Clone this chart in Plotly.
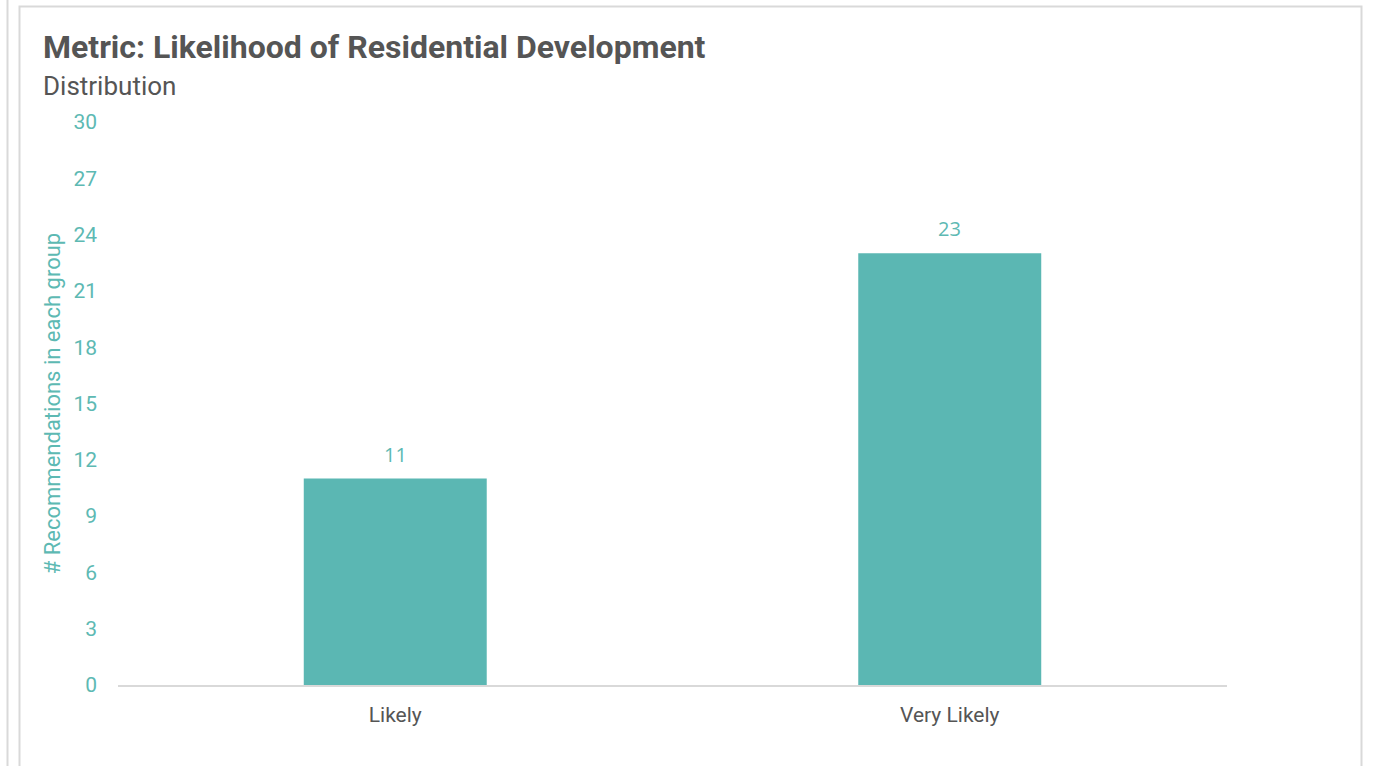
import plotly.graph_objects as go

# Data
categories = ["Likely", "Very Likely"]
counts = [11, 23]
y_ticks = [0, 3, 6, 9, 12, 15, 18, 21, 24, 27, 30]

W, H = 1388, 766
PL, PR, PT, PB = 118, 1227, 122, 685  # plot area in pixels

TEAL = "#5BB7B3"
TEAL_TEXT = "#5DB9B3"
GRAY_TEXT = "#555555"
BORDER = "#D9D9D9"


def px_x(p):
    return (p - PL) / (PR - PL)


def px_y(p):
    return (PB - p) / (PB - PT)


fig = go.Figure()
fig.add_trace(go.Bar(
    x=categories,
    y=counts,
    marker=dict(color=TEAL, line=dict(width=0)),
    width=0.33,
    hoverinfo="x+y",
))

# value labels above the bars
for c, v in zip(categories, counts):
    fig.add_annotation(
        x=c, y=v, xref="x", yref="y",
        text=str(v), showarrow=False,
        yanchor="bottom", yshift=9,
        font=dict(family="Open Sans", size=20, color=TEAL_TEXT),
    )

# subtitle
fig.add_annotation(
    xref="paper", yref="paper",
    x=px_x(41), y=px_y(86), xanchor="left", yanchor="middle",
    text="Distribution", showarrow=False,
    font=dict(family="Roboto", size=26, color=GRAY_TEXT),
)

# card borders
fig.add_shape(type="rect", xref="paper", yref="paper",
              x0=px_x(19.5), x1=px_x(1361.5), y0=px_y(800), y1=px_y(6.5),
              line=dict(color=BORDER, width=2), fillcolor="rgba(0,0,0,0)",
              layer="below")
fig.add_shape(type="line", xref="paper", yref="paper",
              x0=px_x(7.5), x1=px_x(7.5), y0=px_y(800), y1=px_y(-5),
              line=dict(color=BORDER, width=2))

fig.update_layout(
    width=W, height=H,
    margin=dict(l=PL, r=W - PR, t=PT, b=H - PB, pad=0),
    paper_bgcolor="white",
    plot_bgcolor="white",
    showlegend=False,
    bargap=0.67,
    title=dict(
        text="<b>Metric: Likelihood of Residential Development</b>",
        xref="container", yref="container",
        x=43 / W, y=1 - 47 / H, xanchor="left", yanchor="middle",
        font=dict(family="Roboto", size=32, color=GRAY_TEXT),
    ),
    xaxis=dict(
        showgrid=False,
        showline=True, linecolor=BORDER, linewidth=2,
        ticks="", zeroline=False,
        ticklabelstandoff=10,
        tickfont=dict(family="Roboto", size=21, color=GRAY_TEXT),
    ),
    yaxis=dict(
        range=[0, 30],
        tickvals=y_ticks,
        showgrid=False, zeroline=False, showline=False,
        ticks="",
        ticklabelstandoff=20,
        tickfont=dict(family="Roboto", size=21, color=TEAL_TEXT),
        title=dict(text="# Recommendations in each group",
                   font=dict(family="Roboto", size=22, color=TEAL_TEXT),
                   standoff=6),
    ),
)

fig.write_html("out.html")
